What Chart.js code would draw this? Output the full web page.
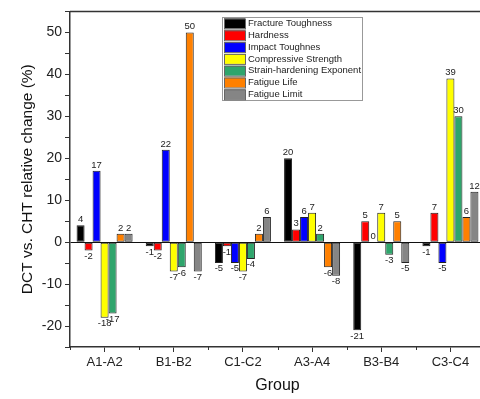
<!DOCTYPE html>
<html>
<head>
<meta charset="utf-8">
<script src="https://cdn.jsdelivr.net/npm/chart.js@4.4.1/dist/chart.umd.min.js"></script>
<style>
  html, body { margin: 0; padding: 0; background: #fff; overflow: hidden; }
  #chart { display: block; }
</style>
</head>
<body>
<canvas id="chart" width="486" height="399"></canvas>
<script>
// Groups and relative change (%) per property
const groups = ['A1-A2', 'B1-B2', 'C1-C2', 'A3-A4', 'B3-B4', 'C3-C4'];
const fractureToughness = [4, -1, -5, 20, -21, -1];
const hardness = [-2, -2, -1, 3, 5, 7];
const impactToughness = [17, 22, -5, 6, 0, -5];
const compressiveStrength = [-18, -7, -7, 7, 7, 39];
const strainHardening = [-17, -6, -4, 2, -3, 30];
const fatigueLife = [2, 50, 2, -6, 5, 6];
const fatigueLimit = [2, -7, 6, -8, -5, 12];

const yMin = -25;
const yMax = 55;
const yStep = 5;

const FONT = "'Liberation Sans', Arial, sans-serif";

function series(label, data, color) {
    return {
        label: label,
        data: data,
        backgroundColor: color,
        borderColor: '#222',
        borderWidth: 1,
        borderSkipped: false,
        categoryPercentage: 0.81,
        barPercentage: 1.0
    };
}

// Value labels above positive bars, below negative ones
const valueLabels = {
    id: 'valueLabels',
    afterDatasetsDraw(chart) {
        const ctx = chart.ctx;
        ctx.save();
        ctx.font = '9.5px ' + FONT;
        ctx.fillStyle = '#222';
        ctx.textAlign = 'center';
        chart.data.datasets.forEach((ds, i) => {
            const meta = chart.getDatasetMeta(i);
            meta.data.forEach((bar, j) => {
                const v = ds.data[j];
                if (v >= 0) {
                    ctx.textBaseline = 'bottom';
                    ctx.fillText(String(v), bar.x, bar.y - 1);
                } else {
                    ctx.textBaseline = 'top';
                    ctx.fillText(String(v), bar.x, bar.y + 1);
                }
            });
        });
        ctx.restore();
    }
};

// Top frame line, minor x ticks and the boxed legend
const frame = {
    id: 'frame',
    afterDraw(chart) {
        const ctx = chart.ctx;
        const a = chart.chartArea;
        ctx.save();
        ctx.strokeStyle = '#333';
        ctx.lineWidth = 1.5;
        ctx.beginPath();
        ctx.moveTo(a.left, a.top);
        ctx.lineTo(a.right, a.top);
        ctx.stroke();

        ctx.lineWidth = 1;
        const n = groups.length;
        const w = (a.right - a.left) / n;
        ctx.beginPath();
        for (let i = 0; i <= n; i++) {
            const x = Math.round(a.left + i * w) + 0.5;
            ctx.moveTo(x, a.bottom);
            ctx.lineTo(x, a.bottom + 3);
        }
        ctx.stroke();

        // legend box
        const lx = 222, ly = 17, lw = 140, lh = 83;
        ctx.fillStyle = '#fff';
        ctx.fillRect(lx, ly, lw, lh);
        ctx.strokeStyle = '#999';
        ctx.strokeRect(lx + 0.5, ly + 0.5, lw, lh);
        ctx.font = '9.5px ' + FONT;
        ctx.textBaseline = 'middle';
        ctx.textAlign = 'left';
        chart.data.datasets.forEach((ds, i) => {
            const cy = ly + 6.5 + i * 11.8;
            ctx.fillStyle = ds.backgroundColor;
            ctx.fillRect(lx + 2, cy - 5, 21, 10);
            ctx.strokeStyle = '#666';
            ctx.strokeRect(lx + 2.5, cy - 4.5, 21, 10);
            ctx.fillStyle = '#222';
            ctx.fillText(ds.label, lx + 26, cy);
        });
        ctx.restore();
    }
};

new Chart(document.getElementById('chart'), {
    type: 'bar',
    data: {
        labels: groups,
        datasets: [
            series('Fracture Toughness', fractureToughness, '#000000'),
            series('Hardness', hardness, '#ff0000'),
            series('Impact Toughnes', impactToughness, '#0000ff'),
            series('Compressive Strength', compressiveStrength, '#ffff00'),
            series('Strain-hardening Exponent', strainHardening, '#2fa56c'),
            series('Fatigue Life', fatigueLife, '#ff8000'),
            series('Fatigue Limit', fatigueLimit, '#858585')
        ]
    },
    options: {
        responsive: false,
        animation: false,
        layout: { padding: { top: 11, right: 1, left: 0, bottom: 0 } },
        plugins: {
            legend: { display: false },
            tooltip: { enabled: false }
        },
        scales: {
            x: {
                offset: true,
                afterFit(scale) { scale.height = 52; },
                grid: {
                    offset: false,
                    drawOnChartArea: false,
                    tickLength: 5,
                    tickColor: '#333'
                },
                border: { color: '#333', width: 1.5 },
                ticks: {
                    color: '#222',
                    padding: 3,
                    font: { family: FONT, size: 13 }
                },
                title: {
                    display: true,
                    text: 'Group',
                    color: '#111',
                    font: { family: FONT, size: 16 },
                    padding: { top: 0, bottom: 4 }
                }
            },
            y: {
                min: yMin,
                max: yMax,
                afterFit(scale) { scale.width = 70; },
                grid: {
                    color: (c) => (c.tick && c.tick.value === 0 ? '#111' : 'rgba(0,0,0,0)'),
                    lineWidth: 1,
                    tickLength: 5,
                    tickColor: '#333'
                },
                border: { color: '#333', width: 1.5 },
                ticks: {
                    stepSize: yStep,
                    color: '#222',
                    padding: 3,
                    font: { family: FONT, size: 14 },
                    callback: (v) => (v % 10 === 0 ? v : '')
                },
                title: {
                    display: true,
                    text: 'DCT vs. CHT relative change (%)',
                    color: '#111',
                    font: { family: FONT, size: 15.5 },
                    padding: { top: 18, bottom: 0 }
                }
            }
        }
    },
    plugins: [valueLabels, frame]
});
</script>
</body>
</html>
